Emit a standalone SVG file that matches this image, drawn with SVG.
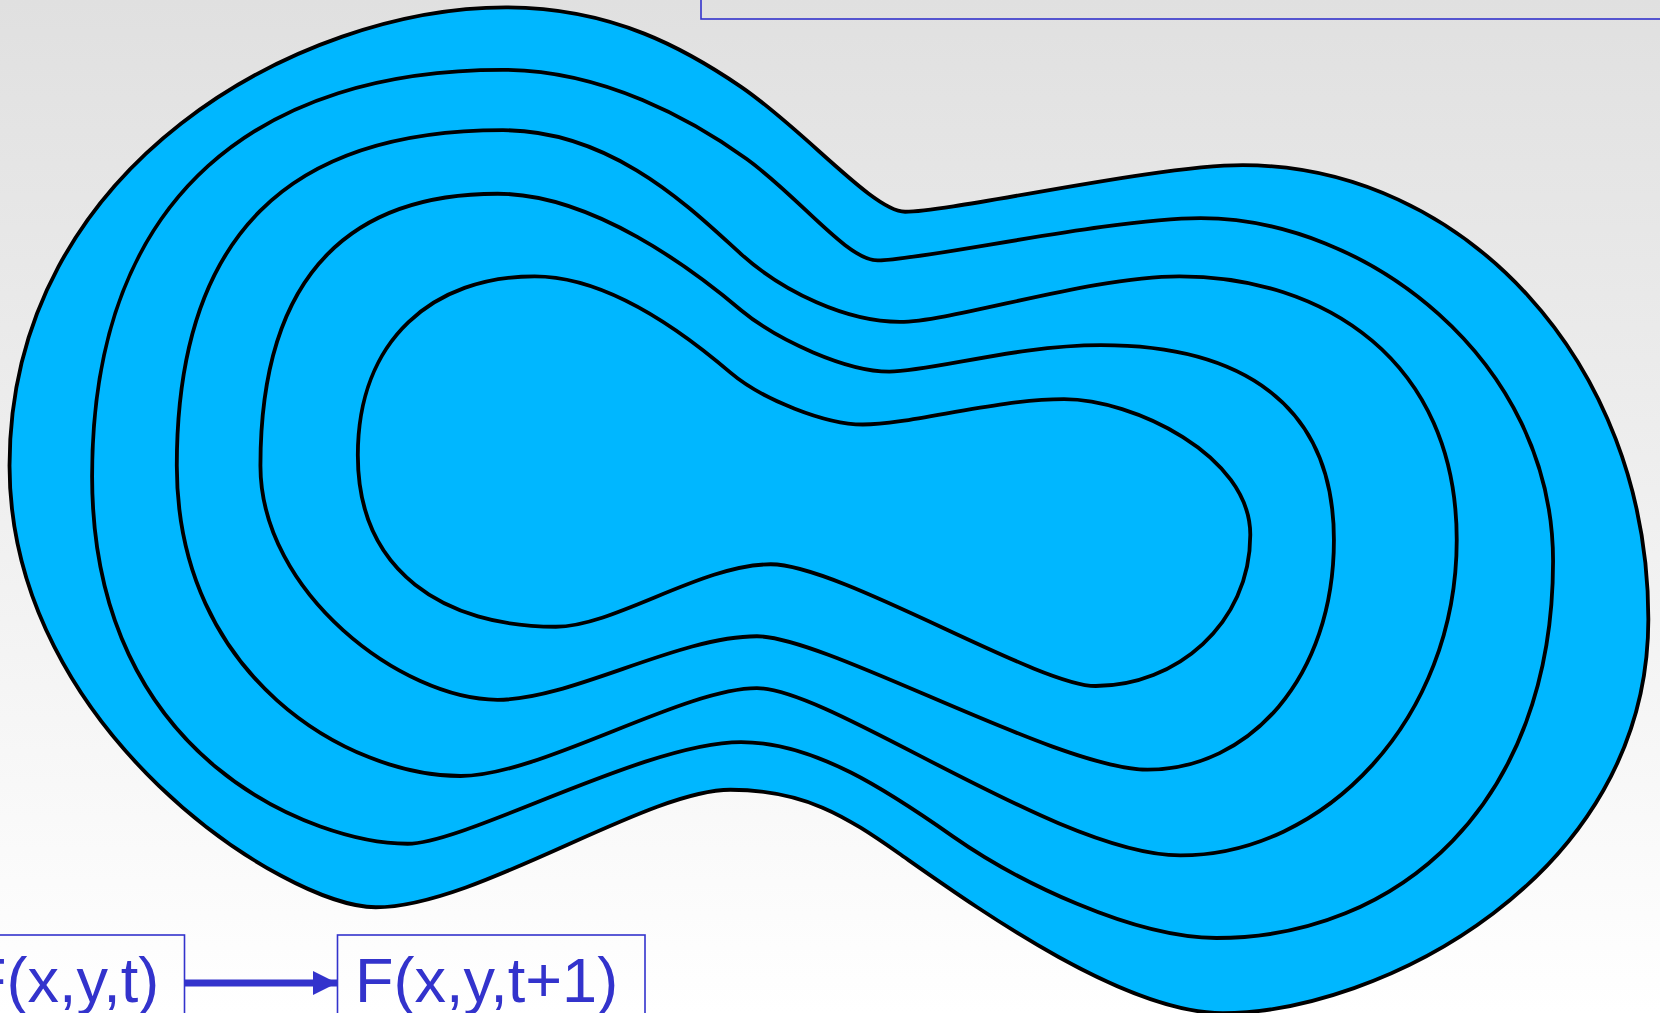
<svg xmlns="http://www.w3.org/2000/svg" width="1660" height="1013" viewBox="0 0 1660 1013">
<defs>
<linearGradient id="bg" x1="0" y1="0" x2="0" y2="1">
<stop offset="0" stop-color="#e0e0e0"/>
<stop offset="1" stop-color="#ffffff"/>
</linearGradient>
<marker id="ah" markerUnits="userSpaceOnUse" viewBox="0 0 24 24" refX="24" refY="12" markerWidth="24" markerHeight="24" orient="auto">
<path d="M0,0 L24,12 L0,24 Z" fill="#3333cc"/>
</marker>
</defs>
<style>
.contour{fill:#00b7ff;stroke:#000;stroke-width:3.6;stroke-linejoin:round}
.box{fill:none;stroke:#3333cc;stroke-width:1.6}
.lbl{font-family:"Liberation Sans",Arial,sans-serif;font-size:63px;fill:#3333cc}
.conn{stroke:#3333cc;stroke-width:7;fill:none}
</style>
<rect x="0" y="0" width="1660" height="1013" fill="url(#bg)"/>
<g id="contours" transform="scale(1.05867)">
<path id="c1" class="contour" d="M478,7 C580,7 650,48 700,82 C760,123 825,200 855,200 C900,200 1090,156 1174,156 C1380,156 1557,340 1557,585 C1557,830 1300,957 1155,957 C1060,957 919,855 849,806 C799,771 760,746 690,746 C610,746 450,857 355,857 C270,857 9,690 9,440 C9,155 285,7 478,7 Z"/>
<path id="c2" class="contour" d="M475,66 C570,66 655,114 705,150 C755,186 800,246 829,246 C870,246 1050,206 1134,206 C1290,206 1467,340 1467,530 C1467,760 1320,886 1149,886 C1070,886 960,832 900,790 C840,748 770,701 700,701 C610,701 440,797 385,797 C300,797 87,720 87,450 C87,180 250,66 475,66 Z"/>
<path id="c3" class="contour" d="M475,123 C580,123 655,199.5 700,240 C740,276 800,304 850,304 C900,304 1030,261 1114,261 C1250,261 1376,340 1376,510 C1376,680 1250,808 1115,808 C1000,808 785,650 715,650 C645,650 510,733 435,733 C330,733 167,640 167,440 C167,220 275,123 475,123 Z"/>
<path id="c4" class="contour" d="M470,183 C560,183 655,255 700,293 C735,322 800,351 840,351 C880,351 960,326 1040,326 C1170,326 1260,380 1260,510 C1260,640 1180,727 1084,727 C1000,727 780,601 715,601 C640,601 540,661 470,661 C380,661 246,560 246,440 C246,250 340,183 470,183 Z"/>
<path id="c5" class="contour" d="M505,261 C575,261 648,316 690,352 C720,377.5 780,401 815,401 C860,401 940,377 1005,377 C1070,377 1181,430 1181,505 C1181,590 1110,648 1035,648 C980,648 793,533 728,533 C663,533 580,592 525,592 C420,592 338,540 338,430 C338,320 410,261 505,261 Z"/>
</g>
<g id="box-top">
<rect class="box" x="701" y="-10" width="1000" height="29" stroke-width="2"/>
</g>
<g id="node-ft">
<rect class="box" x="-10" y="935" width="194.5" height="100"/>
<text class="lbl" x="-32" y="1002">F(x,y,t)</text>
</g>
<g id="node-ft1">
<rect class="box" x="337.5" y="935" width="307.5" height="100"/>
<text class="lbl" x="355" y="1002">F(x,y,t+1)</text>
</g>
<g id="connectors">
<line class="conn" x1="185" y1="983" x2="337" y2="983" marker-end="url(#ah)"/>
</g>
</svg>
